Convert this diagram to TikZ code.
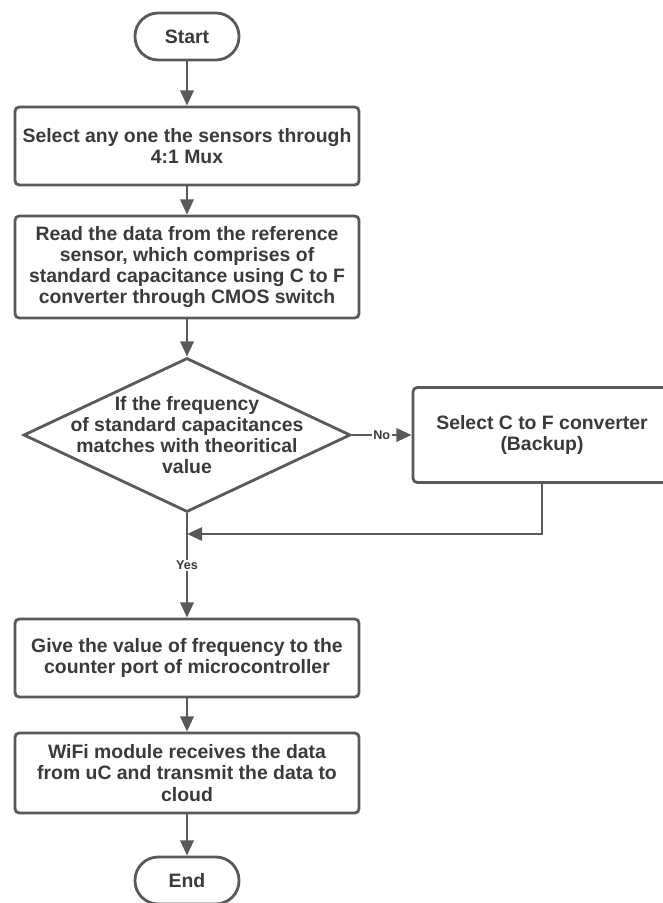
\documentclass[tikz,border=0pt]{standalone}
\usepackage{fontspec}
\setmainfont{Liberation Sans}
\usetikzlibrary{shapes.geometric,arrows.meta}
\definecolor{flowline}{HTML}{595959}
\definecolor{flowtext}{HTML}{3A3A3A}

\begin{document}
\begin{tikzpicture}[
    font=\fontsize{13.8pt}{15pt}\selectfont\bfseries,
    every node/.style={text=flowtext},
    box/.style={draw=flowline, line width=2pt, rounded corners=3pt, fill=white, minimum width=8.6cm, align=center},
    term/.style={draw=flowline, line width=2pt, rounded corners=0.58cm, minimum width=2.6cm, minimum height=1.175cm},
    decision/.style={draw=flowline, line width=2pt, diamond, minimum width=8.175cm, minimum height=3.85cm, inner sep=0pt},
    arr/.style={draw=flowline, line width=2pt, -{Triangle[length=0.38cm,width=0.33cm]}},
    lbl/.style={fill=white, font=\fontsize{9pt}{10pt}\selectfont\bfseries, inner sep=1pt}
]
    \useasboundingbox (0,0) rectangle (16.575,-22.575);

    \node[term] (start) at (4.675,-0.9125) {Start};
    \node[box, minimum height=1.95cm] (sel) at (4.675,-3.65) {Select any one the sensors through\\4:1 Mux};
    \node[box, minimum height=2.55cm] (read) at (4.675,-6.675) {Read the data from the reference\\sensor, which comprises of\\standard capacitance using C to F\\converter through CMOS switch};
    \node[decision, label={[align=center]center:If the frequency\\of standard capacitances\\matches with theoritical\\value}] (test) at (4.675,-10.875) {};
    \node[box, minimum width=6.45cm, minimum height=2.375cm] (backup) at (13.55,-10.875) {Select C to F converter\\(Backup)};
    \node[box, minimum height=1.95cm] (freq) at (4.675,-16.45) {Give the value of frequency to the\\counter port of microcontroller};
    \node[box, minimum height=2cm] (wifi) at (4.675,-19.325) {WiFi module receives the data\\from uC and transmit the data to\\cloud};
    \node[term] (end) at (4.675,-22.0125) {End};
    \coordinate (joinpt) at (4.675,-13.35);

    \foreach \a/\b in {start/sel, sel/read, read/test, freq/wifi, wifi/end}
        \draw[arr] (\a) -- (\b);

    \draw[arr] (test.east) -- node[lbl] {No} (backup.west);
    \draw[arr] (test.south) -- node[lbl] {Yes} (freq.north);
    \draw[arr] (backup.south) |- (joinpt);

\end{tikzpicture}
\end{document}
